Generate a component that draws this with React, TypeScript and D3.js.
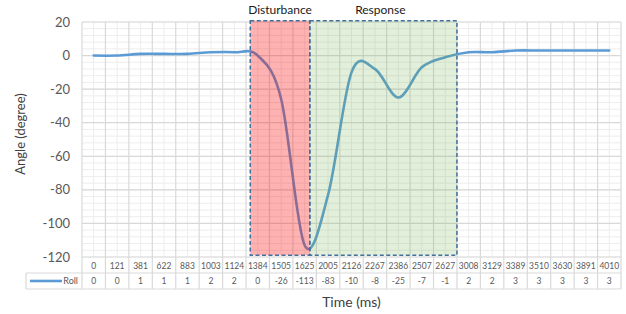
import React, { useEffect, useRef } from "react";
import * as d3 from "d3";

// chart data
const times = ["0", "121", "381", "622", "883", "1003", "1124", "1384", "1505", "1625", "2005", "2126", "2267", "2386", "2507", "2627", "3008", "3129", "3389", "3510", "3630", "3891", "4010"];
const roll = [0, 0, 1, 1, 1, 2, 2, 0, -26, -113, -83, -10, -8, -25, -7, -1, 2, 2, 3, 3, 3, 3, 3];
const yTicks = [20, 0, -20, -40, -60, -80, -100, -120];

// highlighted phases, in category-index units
const phases = [
  { label: "Disturbance", from: 7.18, to: 9.72, fill: "#FF0000", opacity: 0.3 },
  { label: "Response", from: 9.72, to: 16, fill: "#70AD47", opacity: 0.2 },
];

const W = 626;
const H = 314;
const FONT = "Lato, 'Open Sans', sans-serif";

const App = () => {
  const ref = useRef<SVGSVGElement>(null);

  useEffect(() => {
    const svg = d3.select(ref.current);
    svg.selectAll("*").remove();

    const left = 82, right = 621, top = 22, bottom = 257;
    const rowH = 16;

    const x = d3.scaleBand().domain(times).range([left, right]).paddingInner(0).paddingOuter(0);
    const xi = d3.scaleLinear().domain([0, times.length]).range([left, right]);
    const y = d3.scaleLinear().domain([-120, 20]).range([bottom, top]);
    const bw = x.bandwidth();

    // minor grid
    const grid = svg.append("g");
    grid.selectAll("line.hmin")
      .data(d3.range(-120, 21, 4))
      .enter().append("line")
      .attr("x1", left).attr("x2", right)
      .attr("y1", d => y(d)).attr("y2", d => y(d))
      .attr("stroke", "#EDEDED").attr("stroke-width", 1);
    grid.selectAll("line.vmin")
      .data(times)
      .enter().append("line")
      .attr("x1", d => x(d)! + bw / 2).attr("x2", d => x(d)! + bw / 2)
      .attr("y1", top).attr("y2", bottom)
      .attr("stroke", "#EDEDED").attr("stroke-width", 1);

    // major grid
    grid.selectAll("line.hmaj")
      .data(yTicks)
      .enter().append("line")
      .attr("x1", left).attr("x2", right)
      .attr("y1", d => y(d)).attr("y2", d => y(d))
      .attr("stroke", "#D9D9D9").attr("stroke-width", 1.2);
    grid.selectAll("line.vmaj")
      .data(d3.range(times.length + 1))
      .enter().append("line")
      .attr("x1", d => xi(d)).attr("x2", d => xi(d))
      .attr("y1", top).attr("y2", bottom + rowH * 2)
      .attr("stroke", "#D9D9D9").attr("stroke-width", 1.2);

    // table rows
    [bottom + rowH, bottom + rowH * 2].forEach((yy, i) => {
      svg.append("line")
        .attr("x1", 26).attr("x2", right)
        .attr("y1", yy).attr("y2", yy)
        .attr("stroke", "#D9D9D9").attr("stroke-width", 1.2);
    });
    svg.append("line")
      .attr("x1", 26).attr("x2", 26)
      .attr("y1", bottom + rowH).attr("y2", bottom + rowH * 2)
      .attr("stroke", "#D9D9D9").attr("stroke-width", 1.2);

    // y tick labels
    svg.append("g").selectAll("text")
      .data(yTicks)
      .enter().append("text")
      .attr("x", 70).attr("y", d => y(d))
      .attr("dy", "0.35em")
      .attr("text-anchor", "end")
      .attr("font-family", FONT).attr("font-size", 13)
      .attr("fill", "#595959")
      .text(d => d);

    // the Roll line
    const line = d3.line<number>()
      .x((_, i) => x(times[i])! + bw / 2)
      .y(d => y(d))
      .curve(d3.curveCatmullRom.alpha(0));
    svg.append("path")
      .datum(roll)
      .attr("d", line)
      .attr("fill", "none")
      .attr("stroke", "#5B9BD5")
      .attr("stroke-width", 2.6)
      .attr("stroke-linecap", "round");

    // phase overlays
    const boxTop = y(20.8), boxBottom = y(-119);
    phases.forEach(p => {
      svg.append("rect")
        .attr("x", xi(p.from)).attr("y", boxTop)
        .attr("width", xi(p.to) - xi(p.from)).attr("height", boxBottom - boxTop)
        .attr("fill", p.fill).attr("fill-opacity", p.opacity);
    });
    phases.forEach(p => {
      svg.append("rect")
        .attr("x", xi(p.from)).attr("y", boxTop)
        .attr("width", xi(p.to) - xi(p.from)).attr("height", boxBottom - boxTop)
        .attr("fill", "none")
        .attr("stroke", "#41719C").attr("stroke-width", 1.5)
        .attr("stroke-dasharray", "4,2.5");
      svg.append("text")
        .attr("x", (xi(p.from) + xi(p.to)) / 2 + (p.label === "Response" ? -3 : 0))
        .attr("y", 13.5)
        .attr("text-anchor", "middle")
        .attr("font-family", FONT).attr("font-size", 12)
        .attr("fill", "#1a1a1a")
        .text(p.label);
    });

    // table: category row
    svg.append("g").selectAll("text")
      .data(times)
      .enter().append("text")
      .attr("x", d => x(d)! + bw / 2).attr("y", bottom + rowH / 2 + 1)
      .attr("dy", "0.35em")
      .attr("text-anchor", "middle")
      .attr("font-family", FONT).attr("font-size", 8.5)
      .attr("fill", "#595959")
      .text(d => d);

    // table: value row
    svg.append("g").selectAll("text")
      .data(roll)
      .enter().append("text")
      .attr("x", (_, i) => x(times[i])! + bw / 2).attr("y", bottom + rowH * 1.5)
      .attr("dy", "0.35em")
      .attr("text-anchor", "middle")
      .attr("font-family", FONT).attr("font-size", 8.5)
      .attr("fill", "#595959")
      .text(d => d);

    // legend key
    svg.append("line")
      .attr("x1", 30).attr("x2", 62)
      .attr("y1", bottom + rowH * 1.5).attr("y2", bottom + rowH * 1.5)
      .attr("stroke", "#5B9BD5").attr("stroke-width", 2.6);
    svg.append("text")
      .attr("x", 78).attr("y", bottom + rowH * 1.5)
      .attr("dy", "0.35em")
      .attr("text-anchor", "end")
      .attr("font-family", FONT).attr("font-size", 9)
      .attr("fill", "#595959")
      .text("Roll");

    // axis titles
    svg.append("text")
      .attr("x", (left + right) / 2).attr("y", 307)
      .attr("text-anchor", "middle")
      .attr("font-family", FONT).attr("font-size", 14)
      .attr("fill", "#404040")
      .text("Time (ms)");
    svg.append("text")
      .attr("transform", `translate(20, 134) rotate(-90)`)
      .attr("dy", "0.35em")
      .attr("text-anchor", "middle")
      .attr("font-family", FONT).attr("font-size", 13)
      .attr("fill", "#404040")
      .text("Angle (degree)");
  }, []);

  return (
    <svg
      ref={ref}
      width={W}
      height={H}
      style={{ position: "absolute", left: 0, top: 0, background: "#fff" }}
    />
  );
};

export default App;
